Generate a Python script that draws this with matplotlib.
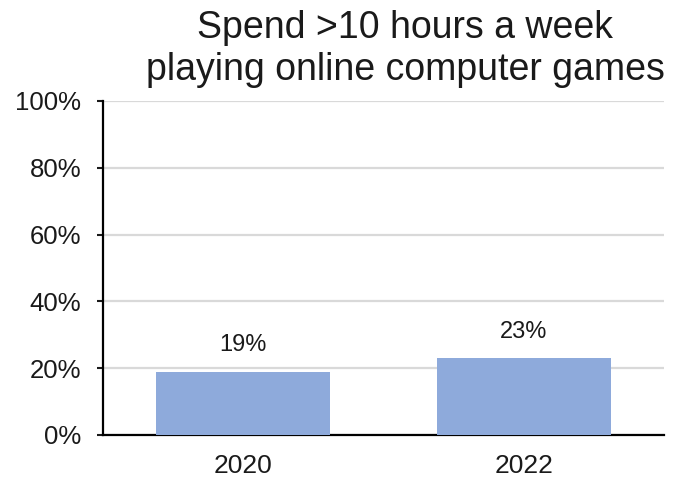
import numpy as np
import matplotlib
matplotlib.use('Agg')
import matplotlib.pyplot as plt

# chart data
years = ['2020', '2022']
shares = [19, 23]
ytick_vals = [0, 20, 40, 60, 80, 100]
title_lines = ['Spend >10 hours a week', 'playing online computer games']

plt.rcParams['font.family'] = ['Liberation Sans', 'DejaVu Sans']

fig = plt.figure(figsize=(6.75, 4.84), dpi=100)
ax = fig.add_axes([103 / 675, 1 - 435 / 484, (664 - 103) / 675, (435 - 101) / 484])

xpos = np.arange(len(years))
ax.bar(xpos, shares, width=0.62, color='#8eaadb', zorder=3)

# value labels above the bars
for x, v in zip(xpos, shares):
    ax.annotate('%d%%' % v, (x, v), xytext=(0, 11), textcoords='offset points',
                ha='center', va='bottom', fontsize=17, color='#1a1a1a')

ax.set_xlim(-0.5, len(years) - 0.5)
ax.set_ylim(0, 100)
ax.set_xticks(xpos)
ax.set_xticklabels(years)
ax.set_yticks(ytick_vals)
ax.set_yticklabels(['%d%%' % v for v in ytick_vals])

ax.tick_params(axis='x', length=0, pad=14, labelsize=19, colors='#1a1a1a')
ax.tick_params(axis='y', length=4.5, width=1.5, pad=11, labelsize=18.5, colors='#1a1a1a')

ax.grid(axis='y', color='#d9d9d9', linewidth=1.6, zorder=0)
for side in ['top', 'right']:
    ax.spines[side].set_visible(False)
for side in ['left', 'bottom']:
    ax.spines[side].set_linewidth(1.6)
    ax.spines[side].set_color('black')

fig.text(0.6, 1 - 38 / 484, title_lines[0], ha='center', va='baseline', fontsize=27, color='#1a1a1a')
fig.text(0.6, 1 - 80 / 484, title_lines[1], ha='center', va='baseline', fontsize=27, color='#1a1a1a')

fig.savefig('out.png', dpi=100)
